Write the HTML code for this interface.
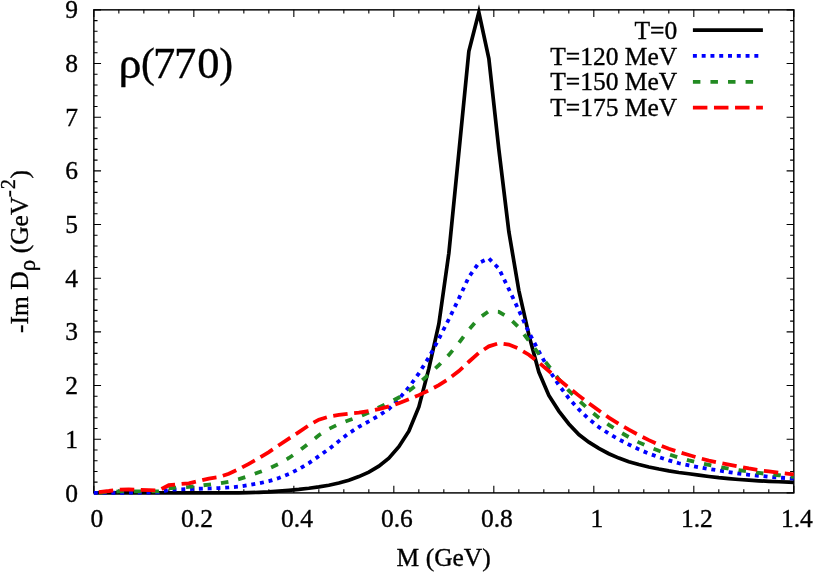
<!DOCTYPE html>
<html><head><meta charset="utf-8"><title>rho(770)</title>
<style>
html,body{margin:0;padding:0;background:#fff;}
svg{display:block;will-change:transform;}
text{font-family:"Liberation Serif",serif;fill:#000;stroke:#000;stroke-width:0.35px;}
</style></head><body>
<svg width="814" height="575" viewBox="0 0 814 575">
<rect x="0" y="0" width="814" height="575" fill="#ffffff"/>
<path d="M93.85,492.90v-7.2 M93.85,9.85v7.2 M118.85,492.90v-3.7 M118.85,9.85v3.7 M143.85,492.90v-3.7 M143.85,9.85v3.7 M168.84,492.90v-3.7 M168.84,9.85v3.7 M193.84,492.90v-7.2 M193.84,9.85v7.2 M218.84,492.90v-3.7 M218.84,9.85v3.7 M243.84,492.90v-3.7 M243.84,9.85v3.7 M268.84,492.90v-3.7 M268.84,9.85v3.7 M293.84,492.90v-7.2 M293.84,9.85v7.2 M318.83,492.90v-3.7 M318.83,9.85v3.7 M343.83,492.90v-3.7 M343.83,9.85v3.7 M368.83,492.90v-3.7 M368.83,9.85v3.7 M393.83,492.90v-7.2 M393.83,9.85v7.2 M418.83,492.90v-3.7 M418.83,9.85v3.7 M443.83,492.90v-3.7 M443.83,9.85v3.7 M468.82,492.90v-3.7 M468.82,9.85v3.7 M493.82,492.90v-7.2 M493.82,9.85v7.2 M518.82,492.90v-3.7 M518.82,9.85v3.7 M543.82,492.90v-3.7 M543.82,9.85v3.7 M568.82,492.90v-3.7 M568.82,9.85v3.7 M593.81,492.90v-7.2 M593.81,9.85v7.2 M618.81,492.90v-3.7 M618.81,9.85v3.7 M643.81,492.90v-3.7 M643.81,9.85v3.7 M668.81,492.90v-3.7 M668.81,9.85v3.7 M693.81,492.90v-7.2 M693.81,9.85v7.2 M718.81,492.90v-3.7 M718.81,9.85v3.7 M743.80,492.90v-3.7 M743.80,9.85v3.7 M768.80,492.90v-3.7 M768.80,9.85v3.7 M793.80,492.90v-7.2 M793.80,9.85v7.2 M93.85,492.90h7.2 M793.80,492.90h-7.2 M93.85,482.17h3.7 M793.80,482.17h-3.7 M93.85,471.43h3.7 M793.80,471.43h-3.7 M93.85,460.70h3.7 M793.80,460.70h-3.7 M93.85,449.96h3.7 M793.80,449.96h-3.7 M93.85,439.23h7.2 M793.80,439.23h-7.2 M93.85,428.49h3.7 M793.80,428.49h-3.7 M93.85,417.76h3.7 M793.80,417.76h-3.7 M93.85,407.02h3.7 M793.80,407.02h-3.7 M93.85,396.29h3.7 M793.80,396.29h-3.7 M93.85,385.56h7.2 M793.80,385.56h-7.2 M93.85,374.82h3.7 M793.80,374.82h-3.7 M93.85,364.09h3.7 M793.80,364.09h-3.7 M93.85,353.35h3.7 M793.80,353.35h-3.7 M93.85,342.62h3.7 M793.80,342.62h-3.7 M93.85,331.88h7.2 M793.80,331.88h-7.2 M93.85,321.15h3.7 M793.80,321.15h-3.7 M93.85,310.41h3.7 M793.80,310.41h-3.7 M93.85,299.68h3.7 M793.80,299.68h-3.7 M93.85,288.95h3.7 M793.80,288.95h-3.7 M93.85,278.21h7.2 M793.80,278.21h-7.2 M93.85,267.48h3.7 M793.80,267.48h-3.7 M93.85,256.74h3.7 M793.80,256.74h-3.7 M93.85,246.01h3.7 M793.80,246.01h-3.7 M93.85,235.27h3.7 M793.80,235.27h-3.7 M93.85,224.54h7.2 M793.80,224.54h-7.2 M93.85,213.80h3.7 M793.80,213.80h-3.7 M93.85,203.07h3.7 M793.80,203.07h-3.7 M93.85,192.34h3.7 M793.80,192.34h-3.7 M93.85,181.60h3.7 M793.80,181.60h-3.7 M93.85,170.87h7.2 M793.80,170.87h-7.2 M93.85,160.13h3.7 M793.80,160.13h-3.7 M93.85,149.40h3.7 M793.80,149.40h-3.7 M93.85,138.66h3.7 M793.80,138.66h-3.7 M93.85,127.93h3.7 M793.80,127.93h-3.7 M93.85,117.19h7.2 M793.80,117.19h-7.2 M93.85,106.46h3.7 M793.80,106.46h-3.7 M93.85,95.73h3.7 M793.80,95.73h-3.7 M93.85,84.99h3.7 M793.80,84.99h-3.7 M93.85,74.26h3.7 M793.80,74.26h-3.7 M93.85,63.52h7.2 M793.80,63.52h-7.2 M93.85,52.79h3.7 M793.80,52.79h-3.7 M93.85,42.05h3.7 M793.80,42.05h-3.7 M93.85,31.32h3.7 M793.80,31.32h-3.7 M93.85,20.58h3.7 M793.80,20.58h-3.7 M93.85,9.85h7.2 M793.80,9.85h-7.2" stroke="#000" stroke-width="1.1" fill="none"/>
<rect x="93.85" y="9.85" width="699.95" height="483.05" fill="none" stroke="#000" stroke-width="1.45"/>
<clipPath id="c"><rect x="92.85" y="0" width="701.9499999999999" height="495.4"/></clipPath>
<g clip-path="url(#c)" fill="none" stroke-linejoin="miter" stroke-miterlimit="10">
<path d="M93.85,492.90 L98.85,492.90 L108.85,492.90 L118.85,492.90 L128.85,492.90 L138.85,492.90 L148.85,492.90 L158.85,492.90 L168.85,492.90 L178.85,492.90 L188.85,492.90 L198.85,492.90 L208.85,492.90 L218.85,492.90 L228.85,492.90 L238.85,492.87 L248.85,492.66 L258.85,492.34 L268.85,491.83 L278.85,491.09 L288.85,490.32 L298.85,489.42 L308.85,488.28 L318.85,486.88 L328.85,485.21 L338.85,483.04 L348.85,480.20 L358.85,476.61 L368.85,472.09 L378.85,466.17 L388.85,458.17 L398.85,446.75 L408.85,431.16 L418.85,406.94 L428.85,368.68 L438.85,323.95 L448.85,253.16 L458.85,152.65 L468.85,51.30 L478.85,12.30 L488.85,58.50 L498.85,149.53 L508.85,231.64 L518.85,290.55 L528.85,334.89 L538.85,372.05 L548.85,395.48 L558.85,411.12 L568.85,423.94 L578.85,434.51 L588.85,442.12 L598.85,448.41 L608.85,453.71 L618.85,458.09 L628.85,461.66 L638.85,464.53 L648.85,466.94 L658.85,469.02 L668.85,470.87 L678.85,472.47 L688.85,473.76 L698.85,475.08 L708.85,476.47 L718.85,477.68 L728.85,478.65 L738.85,479.48 L748.85,480.19 L758.85,480.81 L768.85,481.33 L778.85,481.77 L788.85,482.15 L793.80,482.30" stroke="#000" stroke-width="3.7"/>
<path d="M93.85,492.80 L98.85,492.80 L108.85,492.79 L118.85,492.76 L128.85,492.71 L138.85,492.64 L148.85,492.54 L158.85,492.40 L168.85,489.90 L178.85,489.36 L188.85,489.05 L198.85,488.74 L208.85,488.44 L218.85,488.05 L228.85,487.47 L238.85,486.60 L248.85,485.08 L258.85,483.32 L268.85,481.16 L278.85,478.06 L288.85,474.07 L298.85,469.07 L308.85,463.07 L318.85,456.14 L328.85,449.11 L338.85,441.13 L348.85,433.35 L358.85,426.81 L368.85,421.34 L378.85,415.64 L388.85,409.02 L398.85,399.00 L408.85,387.29 L418.85,373.34 L428.85,357.42 L438.85,338.80 L448.85,319.27 L458.85,298.57 L468.85,276.90 L478.85,262.93 L488.85,258.40 L498.85,268.55 L508.85,289.16 L518.85,310.38 L528.85,332.38 L538.85,351.42 L548.85,369.54 L558.85,385.13 L568.85,398.30 L578.85,409.47 L588.85,419.10 L598.85,427.09 L608.85,433.65 L618.85,439.40 L628.85,444.58 L638.85,449.36 L648.85,453.53 L658.85,457.08 L668.85,460.38 L678.85,463.26 L688.85,465.38 L698.85,467.28 L708.85,469.02 L718.85,470.48 L728.85,472.09 L738.85,473.68 L748.85,474.78 L758.85,475.75 L768.85,476.77 L778.85,477.60 L788.85,478.25 L793.80,478.50" stroke="#0000ff" stroke-width="3.8" stroke-dasharray="3.96 4.82"/>
<path d="M98.85,492.53 L108.85,492.00 L118.85,491.40 L128.85,491.31 L138.85,491.34 L148.85,491.38 L158.85,491.40 L168.85,488.30 L178.85,487.50 L188.85,486.92 L198.85,485.84 L208.85,484.58 L218.85,483.48 L228.85,481.83 L238.85,479.16 L248.85,475.98 L258.85,472.31 L268.85,468.47 L278.85,463.82 L288.85,458.01 L298.85,451.14 L308.85,443.31 L318.85,435.24 L328.85,428.89 L338.85,424.13 L348.85,420.30 L358.85,416.78 L368.85,412.58 L378.85,407.57 L388.85,402.76 L398.85,397.49 L408.85,391.06 L418.85,383.21 L428.85,374.45 L438.85,365.17 L448.85,354.94 L458.85,342.98 L468.85,329.61 L478.85,318.23 L488.85,311.22 L498.85,311.79 L508.85,317.76 L518.85,327.53 L528.85,340.63 L538.85,353.83 L548.85,366.11 L558.85,379.29 L568.85,390.70 L578.85,400.51 L588.85,409.54 L598.85,417.74 L608.85,424.86 L618.85,431.33 L628.85,437.15 L638.85,442.37 L648.85,446.88 L658.85,450.84 L668.85,454.42 L678.85,457.58 L688.85,460.38 L698.85,462.80 L708.85,464.95 L718.85,466.91 L728.85,468.62 L738.85,470.09 L748.85,471.55 L758.85,472.96 L768.85,474.16 L778.85,475.26 L788.85,476.30 L793.80,476.80" stroke="#228b22" stroke-width="3.8" stroke-dasharray="7.5 10.06"/>
<path d="M98.85,492.19 L108.85,491.00 L118.85,489.58 L128.85,489.41 L138.85,489.80 L148.85,490.06 L158.85,490.40 L168.85,485.20 L178.85,484.20 L188.85,483.37 L198.85,481.01 L208.85,478.54 L218.85,477.09 L228.85,473.71 L238.85,469.18 L248.85,463.80 L258.85,458.18 L268.85,452.04 L278.85,445.26 L288.85,438.62 L298.85,432.12 L308.85,425.32 L318.85,419.68 L328.85,416.60 L338.85,414.87 L348.85,413.68 L358.85,412.68 L368.85,411.09 L378.85,409.05 L388.85,406.46 L398.85,403.20 L408.85,399.28 L418.85,395.13 L428.85,390.47 L438.85,385.16 L448.85,378.72 L458.85,371.02 L468.85,361.75 L478.85,352.88 L488.85,346.32 L498.85,343.22 L508.85,344.61 L518.85,348.71 L528.85,354.72 L538.85,362.60 L548.85,371.01 L558.85,379.59 L568.85,387.76 L578.85,395.63 L588.85,403.26 L598.85,410.59 L608.85,417.64 L618.85,423.96 L628.85,429.71 L638.85,435.13 L648.85,440.14 L658.85,444.74 L668.85,448.79 L678.85,452.07 L688.85,455.01 L698.85,457.95 L708.85,460.59 L718.85,462.70 L728.85,464.61 L738.85,466.61 L748.85,468.49 L758.85,470.07 L768.85,471.45 L778.85,472.69 L788.85,473.80 L793.80,474.30" stroke="#ff0000" stroke-width="3.8" stroke-dasharray="14.5 6.57"/>
</g>
<path d="M692.9,30.05H762.9" stroke="#000" stroke-width="3.85"/>
<path d="M692.9,55.85H762.9" stroke="#0000ff" stroke-width="3.8" stroke-dasharray="3.96 4.82"/>
<path d="M692.9,81.8H762.9" stroke="#228b22" stroke-width="3.8" stroke-dasharray="7.5 10.06"/>
<path d="M692.9,107.7H762.9" stroke="#ff0000" stroke-width="3.8" stroke-dasharray="14.5 6.57"/>
<text x="677.2" y="39.00" font-size="25.5" text-anchor="end">T=0</text>
<text x="677.2" y="64.60" font-size="25.5" text-anchor="end">T=120 MeV</text>
<text x="677.2" y="90.20" font-size="25.5" text-anchor="end">T=150 MeV</text>
<text x="677.2" y="115.80" font-size="25.5" text-anchor="end">T=175 MeV</text>
<text x="96.95" y="527.4" font-size="25.5" text-anchor="middle">0</text>
<text x="196.94" y="527.4" font-size="25.5" text-anchor="middle">0.2</text>
<text x="296.94" y="527.4" font-size="25.5" text-anchor="middle">0.4</text>
<text x="396.93" y="527.4" font-size="25.5" text-anchor="middle">0.6</text>
<text x="496.92" y="527.4" font-size="25.5" text-anchor="middle">0.8</text>
<text x="596.91" y="527.4" font-size="25.5" text-anchor="middle">1</text>
<text x="696.91" y="527.4" font-size="25.5" text-anchor="middle">1.2</text>
<text x="796.90" y="527.4" font-size="25.5" text-anchor="middle">1.4</text>
<text x="78.0" y="501.50" font-size="25.5" text-anchor="end">0</text>
<text x="78.0" y="447.83" font-size="25.5" text-anchor="end">1</text>
<text x="78.0" y="394.16" font-size="25.5" text-anchor="end">2</text>
<text x="78.0" y="340.48" font-size="25.5" text-anchor="end">3</text>
<text x="78.0" y="286.81" font-size="25.5" text-anchor="end">4</text>
<text x="78.0" y="233.14" font-size="25.5" text-anchor="end">5</text>
<text x="78.0" y="179.47" font-size="25.5" text-anchor="end">6</text>
<text x="78.0" y="125.79" font-size="25.5" text-anchor="end">7</text>
<text x="78.0" y="72.12" font-size="25.5" text-anchor="end">8</text>
<text x="78.0" y="18.45" font-size="25.5" text-anchor="end">9</text>
<text x="443.7" y="565.8" font-size="25.5" text-anchor="middle">M (GeV)</text>
<text transform="translate(118.6,77.8) scale(1.14,1.12)" font-size="40.5" stroke="#000" stroke-width="0.3">ρ</text>
<text x="153.0 174.0 197.3" y="78.2" font-size="44.5">770</text>
<text x="141.0" y="77.3" font-size="41.5">(</text><text x="219.3" y="77.3" font-size="41.5">)</text>
<text transform="translate(27.8,333.0) rotate(-90)" font-size="25.5">-Im D<tspan font-size="23" dy="7.4" dx="0.2">ρ</tspan><tspan dy="-7.4" dx="0"> (GeV</tspan><tspan font-size="20.4" dy="-13.2" dx="-0.3">-</tspan><tspan font-size="20.4" dx="1.0">2</tspan><tspan dy="13.2" dx="0.6">)</tspan></text>
</svg>
</body></html>
